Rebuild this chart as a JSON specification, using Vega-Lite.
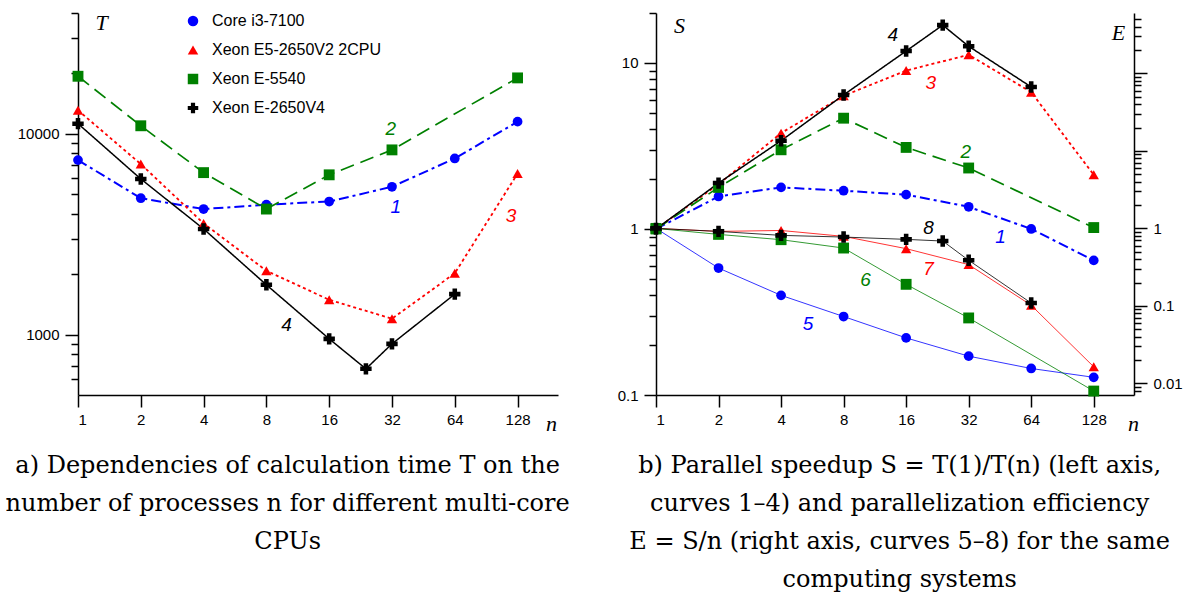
{
  "$schema": "https://vega.github.io/schema/vega-lite/v6.json",
  "padding": {"left": 5, "top": 11, "right": 0, "bottom": 0},
  "spacing": 47,
  "config": {
    "view": {"stroke": null},
    "axis": {
      "grid": false, "labelFont": "Liberation Sans", "labelFontSize": 15, "labelColor": "black",
      "tickColor": "black", "domainColor": "black", "domainWidth": 1.5, "tickWidth": 1.5,
      "titleFont": "Liberation Serif", "titleFontStyle": "italic", "titleFontWeight": "normal",
      "titleFontSize": 22, "titleColor": "black", "titleAngle": 0, "titleAlign": "center", "titleBaseline": "middle"
    }
  },
  "resolve": {"scale": {"color": "independent", "shape": "independent", "stroke": "independent", "fill": "independent", "size": "independent", "strokeDash": "independent", "strokeWidth": "independent"}},
  "datasets": {
    "T": [
      {"cpu": "Core i3-7100", "n": 1, "T": 7400}, {"cpu": "Core i3-7100", "n": 2, "T": 4780}, {"cpu": "Core i3-7100", "n": 4, "T": 4220}, {"cpu": "Core i3-7100", "n": 8, "T": 4440}, {"cpu": "Core i3-7100", "n": 16, "T": 4600}, {"cpu": "Core i3-7100", "n": 32, "T": 5450}, {"cpu": "Core i3-7100", "n": 64, "T": 7540}, {"cpu": "Core i3-7100", "n": 128, "T": 11500},
      {"cpu": "Xeon E5-2650V2 2CPU", "n": 1, "T": 13100}, {"cpu": "Xeon E5-2650V2 2CPU", "n": 2, "T": 7070}, {"cpu": "Xeon E5-2650V2 2CPU", "n": 4, "T": 3580}, {"cpu": "Xeon E5-2650V2 2CPU", "n": 8, "T": 2080}, {"cpu": "Xeon E5-2650V2 2CPU", "n": 16, "T": 1490}, {"cpu": "Xeon E5-2650V2 2CPU", "n": 32, "T": 1200}, {"cpu": "Xeon E5-2650V2 2CPU", "n": 64, "T": 2020}, {"cpu": "Xeon E5-2650V2 2CPU", "n": 128, "T": 6340},
      {"cpu": "Xeon E-5540", "n": 1, "T": 19360}, {"cpu": "Xeon E-5540", "n": 2, "T": 10970}, {"cpu": "Xeon E-5540", "n": 4, "T": 6410}, {"cpu": "Xeon E-5540", "n": 8, "T": 4220}, {"cpu": "Xeon E-5540", "n": 16, "T": 6250}, {"cpu": "Xeon E-5540", "n": 32, "T": 8320}, {"cpu": "Xeon E-5540", "n": 128, "T": 19000},
      {"cpu": "Xeon E-2650V4", "n": 1, "T": 11240}, {"cpu": "Xeon E-2650V4", "n": 2, "T": 5960}, {"cpu": "Xeon E-2650V4", "n": 4, "T": 3360}, {"cpu": "Xeon E-2650V4", "n": 8, "T": 1770}, {"cpu": "Xeon E-2650V4", "n": 16, "T": 952}, {"cpu": "Xeon E-2650V4", "n": 24, "T": 675}, {"cpu": "Xeon E-2650V4", "n": 32, "T": 899}, {"cpu": "Xeon E-2650V4", "n": 64, "T": 1590}
    ],
    "S": [
      {"cpu": "Core i3-7100", "n": 1, "S": 1}, {"cpu": "Core i3-7100", "n": 2, "S": 1.57}, {"cpu": "Core i3-7100", "n": 4, "S": 1.78}, {"cpu": "Core i3-7100", "n": 8, "S": 1.70}, {"cpu": "Core i3-7100", "n": 16, "S": 1.61}, {"cpu": "Core i3-7100", "n": 32, "S": 1.36}, {"cpu": "Core i3-7100", "n": 64, "S": 1.0}, {"cpu": "Core i3-7100", "n": 128, "S": 0.647},
      {"cpu": "Xeon E5-2650V2 2CPU", "n": 1, "S": 1}, {"cpu": "Xeon E5-2650V2 2CPU", "n": 2, "S": 1.86}, {"cpu": "Xeon E5-2650V2 2CPU", "n": 4, "S": 3.78}, {"cpu": "Xeon E5-2650V2 2CPU", "n": 8, "S": 6.34}, {"cpu": "Xeon E5-2650V2 2CPU", "n": 16, "S": 9.0}, {"cpu": "Xeon E5-2650V2 2CPU", "n": 32, "S": 11.2}, {"cpu": "Xeon E5-2650V2 2CPU", "n": 64, "S": 6.67}, {"cpu": "Xeon E5-2650V2 2CPU", "n": 128, "S": 2.12},
      {"cpu": "Xeon E-5540", "n": 1, "S": 1}, {"cpu": "Xeon E-5540", "n": 2, "S": 1.78}, {"cpu": "Xeon E-5540", "n": 4, "S": 3.0}, {"cpu": "Xeon E-5540", "n": 8, "S": 4.65}, {"cpu": "Xeon E-5540", "n": 16, "S": 3.10}, {"cpu": "Xeon E-5540", "n": 32, "S": 2.33}, {"cpu": "Xeon E-5540", "n": 128, "S": 1.02},
      {"cpu": "Xeon E-2650V4", "n": 1, "S": 1}, {"cpu": "Xeon E-2650V4", "n": 2, "S": 1.89}, {"cpu": "Xeon E-2650V4", "n": 4, "S": 3.40}, {"cpu": "Xeon E-2650V4", "n": 8, "S": 6.42}, {"cpu": "Xeon E-2650V4", "n": 16, "S": 11.8}, {"cpu": "Xeon E-2650V4", "n": 24, "S": 16.9}, {"cpu": "Xeon E-2650V4", "n": 32, "S": 12.6}, {"cpu": "Xeon E-2650V4", "n": 64, "S": 7.17}
    ],
    "E": [
      {"cpu": "Core i3-7100", "n": 1, "E": 1}, {"cpu": "Core i3-7100", "n": 2, "E": 0.308}, {"cpu": "Core i3-7100", "n": 4, "E": 0.137}, {"cpu": "Core i3-7100", "n": 8, "E": 0.073}, {"cpu": "Core i3-7100", "n": 16, "E": 0.0387}, {"cpu": "Core i3-7100", "n": 32, "E": 0.0225}, {"cpu": "Core i3-7100", "n": 64, "E": 0.0156}, {"cpu": "Core i3-7100", "n": 128, "E": 0.012},
      {"cpu": "Xeon E5-2650V2 2CPU", "n": 1, "E": 1}, {"cpu": "Xeon E5-2650V2 2CPU", "n": 2, "E": 0.915}, {"cpu": "Xeon E5-2650V2 2CPU", "n": 4, "E": 0.94}, {"cpu": "Xeon E5-2650V2 2CPU", "n": 8, "E": 0.789}, {"cpu": "Xeon E5-2650V2 2CPU", "n": 16, "E": 0.548}, {"cpu": "Xeon E5-2650V2 2CPU", "n": 32, "E": 0.341}, {"cpu": "Xeon E5-2650V2 2CPU", "n": 64, "E": 0.102}, {"cpu": "Xeon E5-2650V2 2CPU", "n": 128, "E": 0.0164},
      {"cpu": "Xeon E-5540", "n": 1, "E": 1}, {"cpu": "Xeon E-5540", "n": 2, "E": 0.837}, {"cpu": "Xeon E-5540", "n": 4, "E": 0.715}, {"cpu": "Xeon E-5540", "n": 8, "E": 0.558}, {"cpu": "Xeon E-5540", "n": 16, "E": 0.19}, {"cpu": "Xeon E-5540", "n": 32, "E": 0.070}, {"cpu": "Xeon E-5540", "n": 128, "E": 0.00798},
      {"cpu": "Xeon E-2650V4", "n": 1, "E": 1}, {"cpu": "Xeon E-2650V4", "n": 2, "E": 0.915}, {"cpu": "Xeon E-2650V4", "n": 4, "E": 0.813}, {"cpu": "Xeon E-2650V4", "n": 8, "E": 0.773}, {"cpu": "Xeon E-2650V4", "n": 16, "E": 0.722}, {"cpu": "Xeon E-2650V4", "n": 24, "E": 0.687}, {"cpu": "Xeon E-2650V4", "n": 32, "E": 0.388}, {"cpu": "Xeon E-2650V4", "n": 64, "E": 0.109}
    ],
    "labelsT": [
      {"lab": "2", "cpu": "Xeon E-5540", "n": 31.6, "v": 10600},
      {"lab": "1", "cpu": "Core i3-7100", "n": 33.4, "v": 4340},
      {"lab": "3", "cpu": "Xeon E5-2650V2 2CPU", "n": 119, "v": 3900},
      {"lab": "4", "cpu": "Xeon E-2650V4", "n": 10, "v": 1110}
    ],
    "labelsS": [
      {"lab": "4", "cpu": "Xeon E-2650V4", "n": 13.8, "v": 14.7},
      {"lab": "3", "cpu": "Xeon E5-2650V2 2CPU", "n": 21, "v": 7.58},
      {"lab": "2", "cpu": "Xeon E-5540", "n": 31, "v": 2.92},
      {"lab": "1", "cpu": "Core i3-7100", "n": 45.6, "v": 0.889},
      {"lab": "8", "cpu": "Xeon E-2650V4", "n": 20.5, "v": 1.02},
      {"lab": "7", "cpu": "Xeon E5-2650V2 2CPU", "n": 20.5, "v": 0.571},
      {"lab": "6", "cpu": "Xeon E-5540", "n": 10.2, "v": 0.491},
      {"lab": "5", "cpu": "Core i3-7100", "n": 5.4, "v": 0.267}
    ]
  },
  "hconcat": [
    {
      "width": 480, "height": 382,
      "title": {"text": ["a) Dependencies of calculation time T on the", "number of processes n for different multi-core", "CPUs"], "orient": "bottom", "anchor": "middle", "frame": "bounds", "font": "DejaVu Serif", "fontSize": 24, "fontWeight": "normal", "lineHeight": 38, "offset": 20, "color": "black"},
      "resolve": {"scale": {"y": "independent"}, "axis": {"y": "independent"}},
      "layer": [
        {
          "data": {"name": "T"},
          "mark": {"type": "line"},
          "encoding": {
            "x": {"field": "n", "type": "quantitative", "scale": {"type": "log", "base": 2, "domain": [1, 200], "nice": false},
                  "axis": {"values": [1, 2, 4, 8, 16, 32, 64, 128], "labelExpr": "'' + datum.value", "tickSize": 12, "labelPadding": 5, "title": "n", "titleX": 473, "titleY": 28}},
            "y": {"field": "T", "type": "quantitative", "scale": {"type": "log", "domain": [500, 40000], "nice": false},
                  "axis": {"orient": "left", "values": [1000, 10000], "labelExpr": "'' + datum.value", "tickSize": 13, "labelPadding": 6, "title": "T", "titleX": 23, "titleY": 9}},
            "stroke": {"field": "cpu", "type": "nominal", "scale": {"domain": ["Xeon E-2650V4", "Xeon E-5540", "Xeon E5-2650V2 2CPU", "Core i3-7100"], "range": ["#000000", "#008000", "#ff0000", "#0000ff"]}, "legend": null},
            "strokeDash": {"field": "cpu", "type": "nominal", "scale": {"domain": ["Xeon E-2650V4", "Xeon E-5540", "Xeon E5-2650V2 2CPU", "Core i3-7100"], "range": [[1, 0], [14, 7], [3, 3], [10, 4, 3, 4]]}, "legend": null},
            "strokeWidth": {"field": "cpu", "type": "nominal", "scale": {"domain": ["Xeon E-2650V4", "Xeon E-5540", "Xeon E5-2650V2 2CPU", "Core i3-7100"], "range": [1.5, 2, 2, 2]}, "legend": null}
          }
        },
        {
          "data": {"name": "T"},
          "mark": {"type": "point", "filled": true, "opacity": 1},
          "encoding": {
            "x": {"field": "n", "type": "quantitative", "scale": {"type": "log", "base": 2, "domain": [1, 200], "nice": false}},
            "y": {"field": "T", "type": "quantitative", "scale": {"type": "log", "domain": [500, 40000], "nice": false},
                  "axis": {"orient": "left", "values": [600, 700, 800, 900, 2000, 3000, 4000, 5000, 6000, 7000, 8000, 9000, 20000, 30000, 40000], "labels": false, "domain": false, "tickSize": 7, "title": null}},
            "size": {"field": "cpu", "type": "nominal", "scale": {"domain": ["Xeon E-2650V4", "Xeon E-5540", "Xeon E5-2650V2 2CPU", "Core i3-7100"], "range": [130, 95, 150, 100]}, "legend": null},
            "color": {"field": "cpu", "type": "nominal", "scale": {"domain": ["Core i3-7100", "Xeon E5-2650V2 2CPU", "Xeon E-5540", "Xeon E-2650V4"], "range": ["#0000ff", "#ff0000", "#008000", "#000000"]},
                      "legend": {"orient": "none", "legendX": 107, "legendY": 0, "title": null, "labelFont": "Liberation Sans", "labelFontSize": 16, "labelColor": "black", "labelLimit": 400, "symbolSize": 110, "rowPadding": 13, "labelOffset": 11, "padding": 0, "symbolStrokeWidth": 0}},
            "shape": {"field": "cpu", "type": "nominal", "scale": {"domain": ["Core i3-7100", "Xeon E5-2650V2 2CPU", "Xeon E-5540", "Xeon E-2650V4"], "range": ["circle", "triangle-up", "square", "cross"]},
                      "legend": {"orient": "none", "legendX": 107, "legendY": 0, "title": null, "labelFont": "Liberation Sans", "labelFontSize": 16, "labelColor": "black", "labelLimit": 400, "symbolSize": 110, "rowPadding": 13, "labelOffset": 11, "padding": 0, "symbolStrokeWidth": 0}}
          }
        },
        {
          "data": {"name": "labelsT"},
          "mark": {"type": "text", "font": "Liberation Sans", "fontStyle": "italic", "fontSize": 19, "align": "center", "baseline": "middle"},
          "encoding": {
            "x": {"field": "n", "type": "quantitative", "scale": {"type": "log", "base": 2, "domain": [1, 200], "nice": false}},
            "y": {"field": "v", "type": "quantitative", "scale": {"type": "log", "domain": [500, 40000], "nice": false}, "axis": null},
            "text": {"field": "lab"},
            "fill": {"field": "cpu", "type": "nominal", "scale": {"domain": ["Xeon E-2650V4", "Xeon E-5540", "Xeon E5-2650V2 2CPU", "Core i3-7100"], "range": ["#000000", "#008000", "#ff0000", "#0000ff"]}, "legend": null}
          }
        }
      ]
    },
    {
      "width": 478, "height": 382,
      "title": {"text": ["b) Parallel speedup S = T(1)/T(n) (left axis,", "curves 1–4) and parallelization efficiency", "E = S/n (right axis, curves 5–8) for the same", "computing systems"], "orient": "bottom", "anchor": "middle", "frame": "bounds", "font": "DejaVu Serif", "fontSize": 24, "fontWeight": "normal", "lineHeight": 38, "offset": 20, "color": "black"},
      "resolve": {"scale": {"y": "independent"}, "axis": {"y": "independent"}},
      "layer": [
        {
          "data": {"name": "S"},
          "mark": {"type": "line"},
          "encoding": {
            "x": {"field": "n", "type": "quantitative", "scale": {"type": "log", "base": 2, "domain": [1, 200], "nice": false},
                  "axis": {"values": [1, 2, 4, 8, 16, 32, 64, 128], "labelExpr": "'' + datum.value", "tickSize": 12, "labelPadding": 5, "title": "n", "titleX": 477, "titleY": 28}},
            "y": {"field": "S", "type": "quantitative", "scale": {"type": "log", "domain": [0.1, 20], "nice": false},
                  "axis": {"orient": "left", "values": [0.1, 1, 10], "labelExpr": "'' + datum.value", "tickSize": 12, "labelPadding": 6, "title": "S", "titleX": 23, "titleY": 12}},
            "stroke": {"field": "cpu", "type": "nominal", "scale": {"domain": ["Xeon E-2650V4", "Xeon E-5540", "Xeon E5-2650V2 2CPU", "Core i3-7100"], "range": ["#000000", "#008000", "#ff0000", "#0000ff"]}, "legend": null},
            "strokeDash": {"field": "cpu", "type": "nominal", "scale": {"domain": ["Xeon E-2650V4", "Xeon E-5540", "Xeon E5-2650V2 2CPU", "Core i3-7100"], "range": [[1, 0], [14, 7], [3, 3], [10, 4, 3, 4]]}, "legend": null},
            "strokeWidth": {"field": "cpu", "type": "nominal", "scale": {"domain": ["Xeon E-2650V4", "Xeon E-5540", "Xeon E5-2650V2 2CPU", "Core i3-7100"], "range": [1.5, 2, 2, 2]}, "legend": null}
          }
        },
        {
          "data": {"name": "S"},
          "mark": {"type": "point", "filled": true, "opacity": 1},
          "encoding": {
            "x": {"field": "n", "type": "quantitative", "scale": {"type": "log", "base": 2, "domain": [1, 200], "nice": false}},
            "y": {"field": "S", "type": "quantitative", "scale": {"type": "log", "domain": [0.1, 20], "nice": false},
                  "axis": {"orient": "left", "values": [0.2, 0.3, 0.4, 0.5, 0.6, 0.7, 0.8, 0.9, 2, 3, 4, 5, 6, 7, 8, 9, 20], "labels": false, "domain": false, "tickSize": 7, "title": null}},
            "size": {"field": "cpu", "type": "nominal", "scale": {"domain": ["Xeon E-2650V4", "Xeon E-5540", "Xeon E5-2650V2 2CPU", "Core i3-7100"], "range": [130, 95, 150, 100]}, "legend": null},
            "color": {"field": "cpu", "type": "nominal", "scale": {"domain": ["Core i3-7100", "Xeon E5-2650V2 2CPU", "Xeon E-5540", "Xeon E-2650V4"], "range": ["#0000ff", "#ff0000", "#008000", "#000000"]}, "legend": null},
            "shape": {"field": "cpu", "type": "nominal", "scale": {"domain": ["Core i3-7100", "Xeon E5-2650V2 2CPU", "Xeon E-5540", "Xeon E-2650V4"], "range": ["circle", "triangle-up", "square", "cross"]}, "legend": null}
          }
        },
        {
          "data": {"name": "E"},
          "mark": {"type": "line", "strokeWidth": 0.8},
          "encoding": {
            "x": {"field": "n", "type": "quantitative", "scale": {"type": "log", "base": 2, "domain": [1, 200], "nice": false}},
            "y": {"field": "E", "type": "quantitative", "scale": {"type": "log", "domain": [0.0071, 600], "nice": false},
                  "axis": {"orient": "right", "values": [0.01, 0.1, 1, 10, 100], "labelExpr": "datum.value <= 1 ? '' + datum.value : ''", "tickSize": 13, "labelPadding": 6, "title": "E", "titleX": -16, "titleY": 19}},
            "stroke": {"field": "cpu", "type": "nominal", "scale": {"domain": ["Xeon E-2650V4", "Xeon E-5540", "Xeon E5-2650V2 2CPU", "Core i3-7100"], "range": ["#000000", "#008000", "#ff0000", "#0000ff"]}, "legend": null}
          }
        },
        {
          "data": {"name": "E"},
          "mark": {"type": "point", "filled": true, "opacity": 1},
          "encoding": {
            "x": {"field": "n", "type": "quantitative", "scale": {"type": "log", "base": 2, "domain": [1, 200], "nice": false}},
            "y": {"field": "E", "type": "quantitative", "scale": {"type": "log", "domain": [0.0071, 600], "nice": false},
                  "axis": {"orient": "right", "values": [0.008, 0.009, 0.02, 0.03, 0.04, 0.05, 0.06, 0.07, 0.08, 0.09, 0.2, 0.3, 0.4, 0.5, 0.6, 0.7, 0.8, 0.9, 2, 3, 4, 5, 6, 7, 8, 9, 20, 30, 40, 50, 60, 70, 80, 90, 200, 300, 400, 500], "labels": false, "domain": false, "tickSize": 7, "title": null}},
            "size": {"field": "cpu", "type": "nominal", "scale": {"domain": ["Xeon E-2650V4", "Xeon E-5540", "Xeon E5-2650V2 2CPU", "Core i3-7100"], "range": [100, 90, 140, 95]}, "legend": null},
            "color": {"field": "cpu", "type": "nominal", "scale": {"domain": ["Core i3-7100", "Xeon E5-2650V2 2CPU", "Xeon E-5540", "Xeon E-2650V4"], "range": ["#0000ff", "#ff0000", "#008000", "#000000"]}, "legend": null},
            "shape": {"field": "cpu", "type": "nominal", "scale": {"domain": ["Core i3-7100", "Xeon E5-2650V2 2CPU", "Xeon E-5540", "Xeon E-2650V4"], "range": ["circle", "triangle-up", "square", "cross"]}, "legend": null}
          }
        },
        {
          "data": {"name": "labelsS"},
          "mark": {"type": "text", "font": "Liberation Sans", "fontStyle": "italic", "fontSize": 19, "align": "center", "baseline": "middle"},
          "encoding": {
            "x": {"field": "n", "type": "quantitative", "scale": {"type": "log", "base": 2, "domain": [1, 200], "nice": false}},
            "y": {"field": "v", "type": "quantitative", "scale": {"type": "log", "domain": [0.1, 20], "nice": false}, "axis": null},
            "text": {"field": "lab"},
            "fill": {"field": "cpu", "type": "nominal", "scale": {"domain": ["Xeon E-2650V4", "Xeon E-5540", "Xeon E5-2650V2 2CPU", "Core i3-7100"], "range": ["#000000", "#008000", "#ff0000", "#0000ff"]}, "legend": null}
          }
        }
      ]
    }
  ]
}
